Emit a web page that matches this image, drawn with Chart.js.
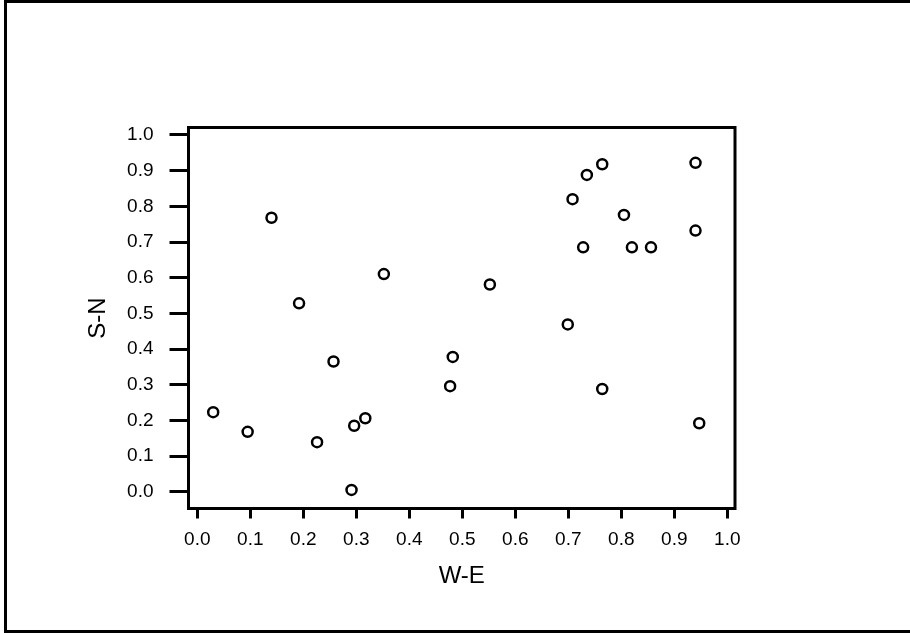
<!DOCTYPE html>
<html>
<head>
<meta charset="utf-8">
<script src="https://cdn.jsdelivr.net/npm/chart.js@4/dist/chart.umd.min.js"></script>
<style>
  html, body { margin: 0; padding: 0; background: #fff; }
  #wrap { position: relative; width: 910px; height: 633px; overflow: hidden; }
  #chart { position: absolute; left: 0; top: 0; }
  #frame {
    position: absolute; left: 4px; top: 0; width: 930px; height: 633px;
    box-sizing: border-box; border: 3px solid #000; border-right: none;
    pointer-events: none;
  }
</style>
</head>
<body>
<div id="wrap">
  <canvas id="chart" width="910" height="633"></canvas>
  <div id="frame"></div>
</div>
<script>
// W-E / S-N の散布図
const weValues = [0.030, 0.095, 0.140, 0.192, 0.226, 0.257, 0.291, 0.296, 0.317, 0.352,
                  0.477, 0.482, 0.552, 0.699, 0.708, 0.728, 0.735, 0.764, 0.764, 0.805,
                  0.820, 0.856, 0.940, 0.940, 0.947];
const snValues = [0.223, 0.168, 0.768, 0.528, 0.139, 0.365, 0.005, 0.185, 0.206, 0.610,
                  0.296, 0.378, 0.581, 0.469, 0.820, 0.685, 0.888, 0.918, 0.288, 0.776,
                  0.685, 0.685, 0.922, 0.732, 0.192];
const tickValues = [0, 0.1, 0.2, 0.3, 0.4, 0.5, 0.6, 0.7, 0.8, 0.9, 1.0];

const FONT = "'Liberation Sans', Arial, sans-serif";

const points = weValues.map((x, i) => ({ x, y: snValues[i] }));

// 上と右の枠線
const frameBox = {
  id: "frameBox",
  afterDraw(chart) {
    const { ctx, chartArea: a } = chart;
    ctx.save();
    ctx.strokeStyle = "#000";
    ctx.lineWidth = 3;
    ctx.beginPath();
    ctx.moveTo(a.left - 1.5, a.top);
    ctx.lineTo(a.right, a.top);
    ctx.lineTo(a.right, a.bottom + 1.5);
    ctx.stroke();
    ctx.restore();
  }
};

const fixedTicks = scale => { scale.ticks = tickValues.map(v => ({ value: v })); };

new Chart(document.getElementById("chart"), {
  type: "scatter",
  data: {
    datasets: [{
      data: points,
      pointRadius: 5,
      pointHoverRadius: 5,
      pointBorderWidth: 2.5,
      pointBorderColor: "#000",
      pointBackgroundColor: "#fff",
    }]
  },
  options: {
    responsive: false,
    animation: false,
    layout: { padding: { left: 84, top: 127.5, right: 175, bottom: 42 } },
    plugins: { legend: { display: false }, tooltip: { enabled: false } },
    scales: {
      x: {
        type: "linear",
        min: -0.0166,
        max: 1.0145,
        afterBuildTicks: fixedTicks,
        afterFit: s => { s.height = 82.5; },
        border: { display: true, color: "#000", width: 3 },
        grid: { drawOnChartArea: false, drawTicks: true, tickLength: 10, tickWidth: 3, tickColor: "#000" },
        ticks: { color: "#000", padding: 10, font: { family: FONT, size: 19 }, callback: v => Number(v).toFixed(1) },
        title: { display: true, text: "W-E", color: "#000", padding: 0, font: { family: FONT, size: 24 } },
      },
      y: {
        type: "linear",
        min: -0.047,
        max: 1.021,
        afterBuildTicks: fixedTicks,
        afterFit: s => { s.width = 104.5; },
        border: { display: true, color: "#000", width: 3 },
        grid: { drawOnChartArea: false, drawTicks: true, tickLength: 19, tickWidth: 3, tickColor: "#000" },
        ticks: { color: "#000", padding: 16, font: { family: FONT, size: 19 }, callback: v => Number(v).toFixed(1) },
        title: { display: true, text: "S-N", color: "#000", padding: 0, font: { family: FONT, size: 24 } },
      }
    }
  },
  plugins: [frameBox]
});
</script>
</body>
</html>
